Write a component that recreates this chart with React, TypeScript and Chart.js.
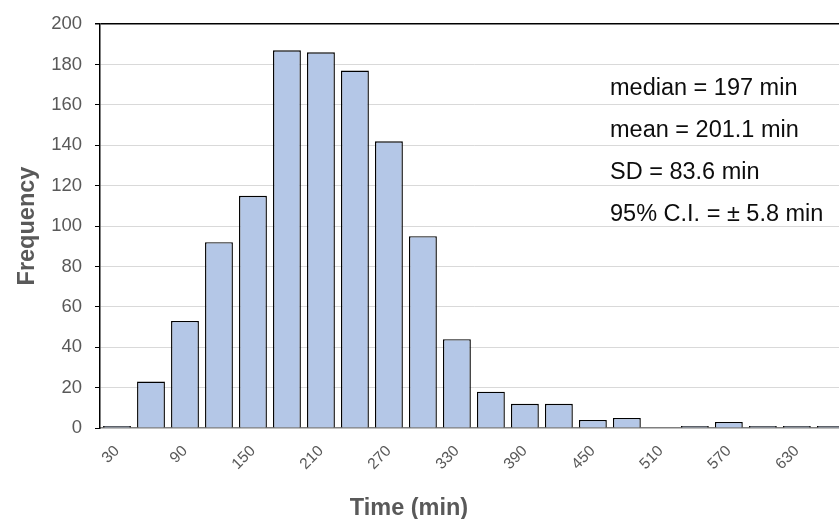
import React, { useEffect, useRef } from "react";
import { Chart, registerables } from "chart.js";

Chart.register(...registerables);

const categories = ["30", "60", "90", "120", "150", "180", "210", "240", "270", "300", "330", "360", "390", "420", "450", "480", "510", "540", "570", "600", "630", "660"];
const frequency = [1, 23, 53, 92, 115, 187, 186, 177, 142, 95, 44, 18, 12, 12, 4, 5, 0, 1, 3, 1, 1, 1];
const yTicks = { min: 0, max: 200, step: 20 };
const statsLines = ["median = 197 min", "mean = 201.1 min", "SD = 83.6 min", "95% C.I. = \u00b1 5.8 min"];
const xTitle = "Time (min)";
const yTitle = "Frequency";

const FONT = "'Liberation Sans', Arial, sans-serif";

const textPlugin = {
  id: "textPlugin",
  afterDraw(chart: any) {
    const ctx = chart.ctx;
    ctx.save();
    ctx.fillStyle = "#0d0d0d";
    ctx.font = `23.5px ${FONT}`;
    ctx.textAlign = "left";
    ctx.textBaseline = "alphabetic";
    const baselines = [95, 137, 179, 221];
    statsLines.forEach((t, i) => ctx.fillText(t, 610, baselines[i]));
    ctx.fillStyle = "#595959";
    ctx.font = `bold 23.5px ${FONT}`;
    ctx.textAlign = "center";
    ctx.fillText(xTitle, 409, 515);
    ctx.restore();
  },
};

export default function App() {
  const ref = useRef<HTMLCanvasElement>(null);
  useEffect(() => {
    document.body.style.margin = "0";
    const chart = new Chart(ref.current!, {
      type: "bar",
      data: {
        labels: categories,
        datasets: [
          {
            data: frequency,
            backgroundColor: "#b4c7e7",
            borderColor: "#000000",
            borderWidth: 1.4,
            categoryPercentage: 1,
            barPercentage: 0.82,
          },
        ],
      },
      options: {
        responsive: false,
        animation: false,
        layout: { padding: { top: 21, right: 1, left: 0, bottom: 0 } },
        plugins: { legend: { display: false }, tooltip: { enabled: false } },
        scales: {
          x: {
            grid: { display: false },
            border: { color: "#7f7f7f", width: 1.5 },
            ticks: {
              autoSkip: false,
              maxRotation: 45,
              minRotation: 45,
              padding: 6,
              color: "#595959",
              font: { family: FONT, size: 15.5 },
              callback: (_v: any, i: number) => (i % 2 === 0 ? categories[i] : ""),
            },
            afterFit: (s: any) => {
              s.height = 91;
            },
          },
          y: {
            min: yTicks.min,
            max: yTicks.max,
            border: { color: "#000", width: 1.5 },
            grid: {
              color: (c: any) =>
                c.tick && c.tick.value === 200 ? "#000" : c.tick && c.tick.value === 0 ? "rgba(0,0,0,0)" : "#d9d9d9",
              lineWidth: (c: any) => (c.tick && c.tick.value === 200 ? 1.5 : 1),
              tickColor: "#000",
              tickLength: 5,
            },
            ticks: {
              stepSize: yTicks.step,
              padding: 13,
              color: "#595959",
              font: { family: FONT, size: 18.5 },
            },
            title: {
              display: true,
              text: yTitle,
              color: "#595959",
              font: { family: FONT, size: 23.5, weight: "bold" },
              padding: { top: 13, bottom: 0 },
            },
            afterFit: (s: any) => {
              s.width = 100;
            },
          },
        },
      },
      plugins: [textPlugin],
    });
    return () => chart.destroy();
  }, []);
  return (
    <div style={{ position: "fixed", left: 0, top: 0, width: 839, height: 519, overflow: "hidden", background: "#fff" }}>
      <canvas ref={ref} width={850} height={519} style={{ display: "block" }} />
    </div>
  );
}
